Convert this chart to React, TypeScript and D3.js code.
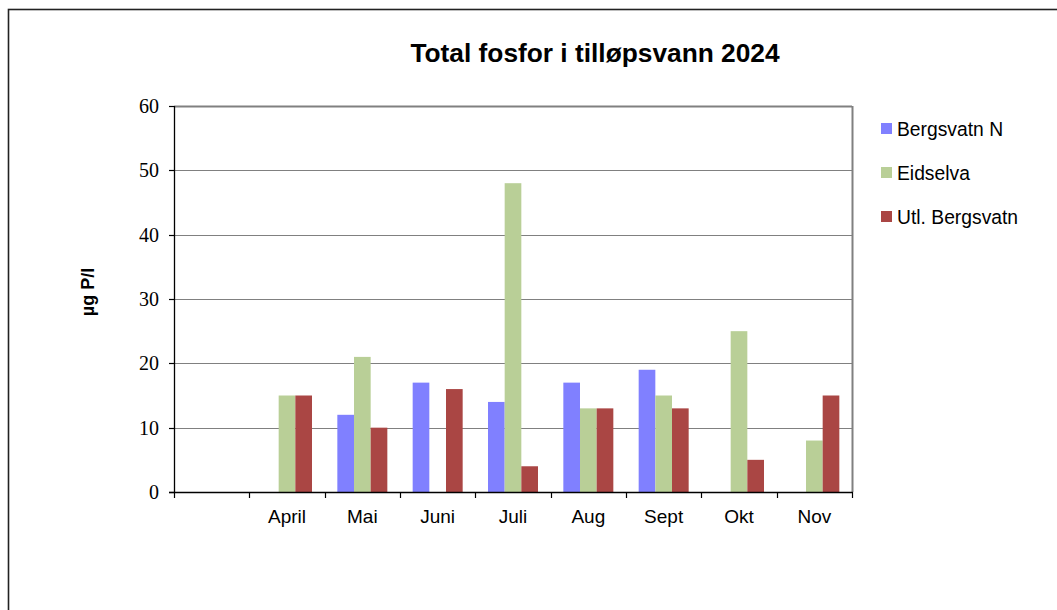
import * as d3 from 'd3';

// Chart data
const categories = ['', 'April', 'Mai', 'Juni', 'Juli', 'Aug', 'Sept', 'Okt', 'Nov'];
const seriesNames = ['Bergsvatn N', 'Eidselva', 'Utl. Bergsvatn'];
const bergsvatnN = [null, 0, 12, 17, 14, 17, 19, 0, 0];
const eidselva = [null, 15, 21, 0, 48, 13, 15, 25, 8];
const utlBergsvatn = [null, 15, 10, 16, 4, 13, 13, 5, 15];
const yTicks = [0, 10, 20, 30, 40, 50, 60];

const colors = ['#8080ff', '#b9cf97', '#aa4644'];
const seriesValues = [bergsvatnN, eidselva, utlBergsvatn];

const plot = { left: 174, right: 852, top: 106, bottom: 492 };

export default function App() {
  const x = d3.scaleBand<string>().domain(categories.map((c, i) => `${i}`)).range([plot.left, plot.right]).padding(0);
  const bw = x.bandwidth();
  const groupPad = (bw - 50) / 2;
  const xs = d3.scaleBand<string>().domain(seriesNames).range([groupPad, bw - groupPad]).padding(0);
  const y = d3.scaleLinear().domain([0, 60]).range([plot.bottom, plot.top]);

  const boundaries = d3.range(categories.length + 1).map((i) => plot.left + i * bw);

  return (
    <svg
      width={1057}
      height={610}
      style={{ position: 'absolute', left: 0, top: 0, display: 'block' }}
    >
      <rect x={0} y={0} width={1057} height={610} fill="#fff" />
      {/* outer frame */}
      <rect x={8.5} y={9.5} width={1200} height={800} fill="none" stroke="#222" strokeWidth={1.6} />

      <text
        x={595}
        y={62}
        textAnchor="middle"
        fontFamily="Arial, 'Liberation Sans', sans-serif"
        fontWeight="bold"
        fontSize={26.3}
        fill="#000"
      >
        Total fosfor i tilløpsvann 2024
      </text>

      {/* gridlines */}
      {yTicks.filter((t) => t > 0).map((t) => (
        <line
          key={t}
          x1={plot.left}
          x2={plot.right}
          y1={Math.round(y(t)) + 0.5}
          y2={Math.round(y(t)) + 0.5}
          stroke="#808080"
          strokeWidth={t === 60 ? 2 : 1.2}
        />
      ))}
      <line x1={plot.right + 0.5} x2={plot.right + 0.5} y1={plot.top} y2={plot.bottom} stroke="#808080" strokeWidth={2} />

      {/* bars */}
      {seriesValues.map((vals, si) =>
        vals.map((v, ci) =>
          v == null || v === 0 ? null : (
            <rect
              key={`${si}-${ci}`}
              x={x(`${ci}`)! + xs(seriesNames[si])!}
              y={y(v)}
              width={xs.bandwidth()}
              height={y(0) - y(v)}
              fill={colors[si]}
            />
          )
        )
      )}

      {/* axes */}
      <line x1={plot.left + 0.5} x2={plot.left + 0.5} y1={plot.top} y2={plot.bottom} stroke="#000" strokeWidth={1.3} />
      <line x1={plot.left - 5} x2={plot.right + 1} y1={plot.bottom + 0.5} y2={plot.bottom + 0.5} stroke="#000" strokeWidth={1.3} />
      {yTicks.map((t) => (
        <g key={t}>
          <line x1={plot.left - 5} x2={plot.left} y1={Math.round(y(t)) + 0.5} y2={Math.round(y(t)) + 0.5} stroke="#000" strokeWidth={1.2} />
          <text
            x={159}
            y={y(t) + 7}
            textAnchor="end"
            fontFamily="'Times New Roman', 'Liberation Serif', serif"
            fontSize={20}
            fill="#000"
          >
            {t}
          </text>
        </g>
      ))}
      {boundaries.map((bx, i) => (
        <line key={i} x1={Math.round(bx) + 0.5} x2={Math.round(bx) + 0.5} y1={plot.bottom} y2={plot.bottom + 6} stroke="#000" strokeWidth={1.2} />
      ))}
      {categories.map((c, i) => (
        <text
          key={i}
          x={x(`${i}`)! + bw / 2}
          y={523}
          textAnchor="middle"
          fontFamily="Arial, 'Liberation Sans', sans-serif"
          fontSize={19}
          fill="#000"
        >
          {c}
        </text>
      ))}

      <text
        transform="translate(94,292) rotate(-90)"
        textAnchor="middle"
        fontFamily="Arial, 'Liberation Sans', sans-serif"
        fontWeight="bold"
        fontSize={18}
        fill="#000"
      >
        µg P/l
      </text>

      {/* legend */}
      {seriesNames.map((name, i) => (
        <g key={name} transform={`translate(881,${129 + i * 44})`}>
          <rect x={0} y={-6} width={11} height={11} fill={colors[i]} />
          <text
            x={16}
            y={7}
            fontFamily="Arial, 'Liberation Sans', sans-serif"
            fontSize={19.3}
            fill="#000"
          >
            {name}
          </text>
        </g>
      ))}
    </svg>
  );
}
